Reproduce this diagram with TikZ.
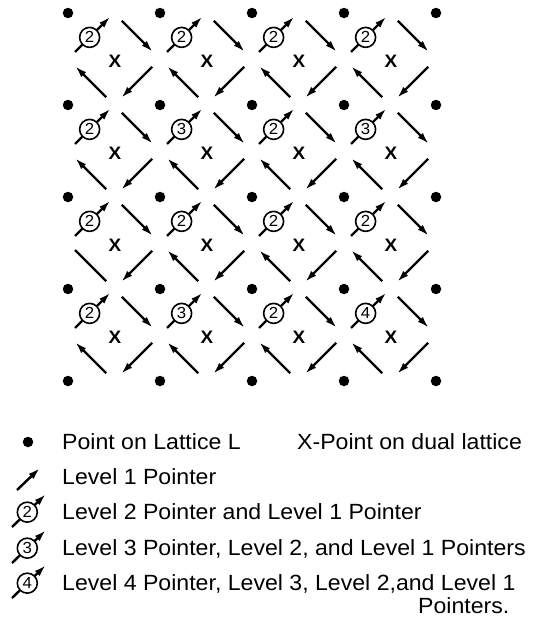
\documentclass[tikz,border=0pt]{standalone}
\usepackage{fontspec}
\setmainfont[FakeStretch=1.05]{Liberation Sans}
\usetikzlibrary{arrows.meta}
\tikzset{%
  latdot/.style={%
    circle,
    fill=black,
    inner sep=0pt,
    minimum size=10.5pt
  },
  dualx/.style={inner sep=0pt,font=\fontsize{18}{21}\selectfont\bfseries},
  ptr/.style={-{Latex[length=12pt,width=7pt]},line width=2.4pt,shorten <=11pt,shorten >=10pt},
  ptrone/.style={ptr,shorten <=10pt,shorten >=5pt},
  bareptr/.style={ptr,-},
  keyptr/.style={ptr,shorten <=0pt,shorten >=0pt},
  lvlring/.style={%
    circle,
    draw,
    line width=1.6pt,
    fill=white,
    inner sep=0pt,
    minimum size=20pt,
    font=\fontsize{16}{18}\selectfont
  },
  legtext/.style={anchor=base west,inner sep=0pt,font=\fontsize{22}{26}\selectfont}
}

\begin{document}
\begin{tikzpicture}[x=1pt,y=-1pt]
    \useasboundingbox (0,0) rectangle (539,621);

    % lattice points
    \foreach \i in {0,...,4}{
      \foreach \j in {0,...,4}{
        \node[latdot] (d\i\j) at (68+92*\i,13+92*\j) {};
      }
    }

    % one cell: dual point and the pointers round it
    \foreach \i in {0,...,3}{
      \foreach \j in {0,...,3}{
        \coordinate (mt\i\j) at (114+92*\i,13+92*\j);
        \coordinate (ml\i\j) at (68+92*\i,59+92*\j);
        \coordinate (mr\i\j) at (160+92*\i,59+92*\j);
        \coordinate (mb\i\j) at (114+92*\i,105+92*\j);
        \node[dualx] (x\i\j) at (115+92*\i,61+92*\j) {X};
        \draw[ptr] (mt\i\j) -- (mr\i\j);
        \draw[ptr] (mr\i\j) -- (mb\i\j);
        % cell 0/2 has no head on this one
        \ifnum\i\j=2
          \draw[bareptr] (mb\i\j) -- (ml\i\j);
        \else
          \draw[ptr] (mb\i\j) -- (ml\i\j);
        \fi
      }
    }

    % level pointers
    \foreach \i/\j/\n in {0/0/2,1/0/2,2/0/2,3/0/2,
                          0/1/2,1/1/3,2/1/2,3/1/3,
                          0/2/2,1/2/2,2/2/2,3/2/2,
                          0/3/2,1/3/3,2/3/2,3/3/4}{
      \draw[ptrone] (ml\i\j) -- node[lvlring,pos=.47] (r\i\j) {\n} (mt\i\j);
    }

    % key
    \node[latdot] (keydot) at (28,442) {};
    \node[legtext] (keyL) at (62,449) {Point on Lattice L};
    \node[legtext] (keyX) at (297,449) {X-Point on dual lattice};

    \coordinate (k1a) at (17,490);
    \coordinate (k1b) at (40,468);
    \draw[keyptr] (k1a) -- (k1b);
    \node[legtext] (key1) at (62,484) {Level 1 Pointer};

    \coordinate (k2a) at (12,527);
    \coordinate (k2b) at (46,494);
    \draw[keyptr] (k2a) -- node[lvlring,pos=.45] (kr2) {2} (k2b);
    \node[legtext] (key2) at (62,519) {Level 2 Pointer and Level 1 Pointer};

    \coordinate (k3a) at (12,563);
    \coordinate (k3b) at (46,530);
    \draw[keyptr] (k3a) -- node[lvlring,pos=.45] (kr3) {3} (k3b);
    \node[legtext] (key3) at (62,555) {Level 3 Pointer, Level 2, and Level 1 Pointers};

    \coordinate (k4a) at (12,598);
    \coordinate (k4b) at (46,565);
    \draw[keyptr] (k4a) -- node[lvlring,pos=.45] (kr4) {4} (k4b);
    \node[legtext] (key4) at (62,590) {Level 4 Pointer, Level 3, Level 2,and Level 1};
    \node[legtext] (key5) at (418,613) {Pointers.};
  \end{tikzpicture}
\end{document}
